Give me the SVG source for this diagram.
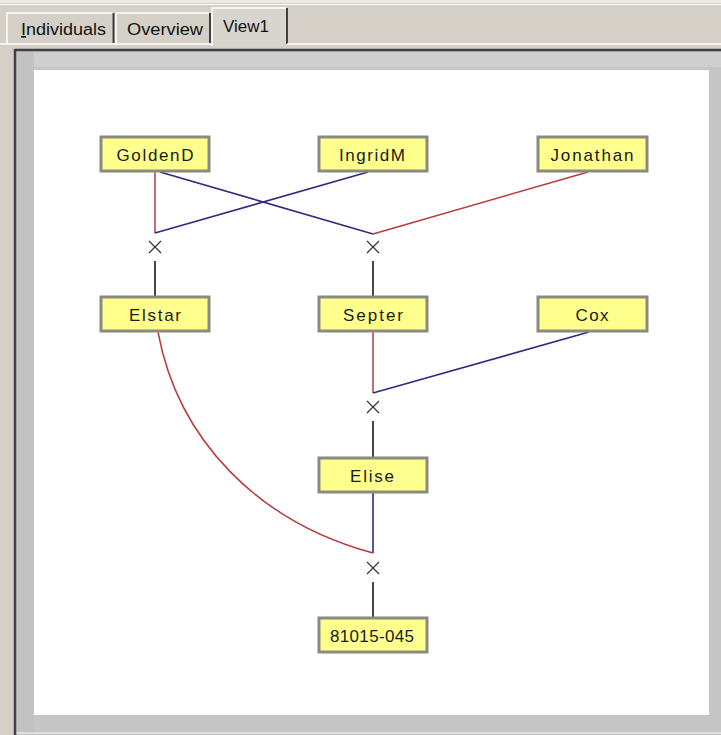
<svg xmlns="http://www.w3.org/2000/svg" width="721" height="735" viewBox="0 0 721 735">
<style>
.tabt{font-family:"Liberation Sans",Arial,sans-serif;font-size:16px;fill:#111}
.box{fill:#ffff8e;stroke:#8a8a80;stroke-width:3}
.lbl{font-family:"Liberation Sans",Arial,sans-serif;font-size:17px;fill:#1a1a1a;text-anchor:middle}
.red{stroke:#b83a3a;stroke-width:1.5;fill:none}
.blue{stroke:#2c2c80;stroke-width:1.6;fill:none}
.blk{stroke:#1a1a1a;stroke-width:1.6;fill:none}
.x{stroke:#333;stroke-width:1.2;fill:none}
</style>
<!-- window chrome -->
<rect x="0" y="0" width="721" height="735" fill="#d4d0c8"/>
<rect x="0" y="0" width="721" height="3" fill="#ece9e3"/>
<line x1="0" y1="4.5" x2="721" y2="4.5" stroke="#ffffff" stroke-width="1"/>
<!-- tabs -->
<g id="tab-individuals">
<path d="M7,44 L7,13 L113,13" fill="none" stroke="#ffffff" stroke-width="1.5"/>
<line x1="113.5" y1="13" x2="113.5" y2="43" stroke="#404040" stroke-width="2"/>
<text class="tabt" x="21" y="35" textLength="85" lengthAdjust="spacingAndGlyphs"><tspan text-decoration="underline">I</tspan>ndividuals</text>
</g>
<g id="tab-overview">
<path d="M116,44 L116,13 L209,13" fill="none" stroke="#ffffff" stroke-width="1.5"/>
<line x1="210" y1="13" x2="210" y2="43" stroke="#404040" stroke-width="2"/>
<text class="tabt" x="127" y="35" textLength="76" lengthAdjust="spacingAndGlyphs">Overview</text>
</g>
<g id="tab-view1">
<rect x="212" y="8" width="75" height="38" fill="#d8d5ce"/>
<path d="M212,46 L212,8 L286,8" fill="none" stroke="#ffffff" stroke-width="1.5"/>
<line x1="287" y1="8" x2="287" y2="44" stroke="#404040" stroke-width="2"/>
<text class="tabt" x="223" y="32" textLength="46" lengthAdjust="spacingAndGlyphs">View1</text>
</g>
<line x1="0" y1="44" x2="212" y2="44" stroke="#ffffff" stroke-width="1.5"/>
<line x1="287" y1="44" x2="721" y2="44" stroke="#ffffff" stroke-width="1.5"/>
<!-- panel -->
<rect x="15" y="49" width="706" height="686" fill="#c6c6c6"/>
<line x1="15" y1="50" x2="721" y2="50" stroke="#404040" stroke-width="2.5"/>
<line x1="15" y1="49" x2="15" y2="735" stroke="#404040" stroke-width="2.5"/>
<rect x="17" y="52" width="704" height="15" fill="#cfcfcf"/>
<rect x="17" y="52" width="17" height="680" fill="#c2c2c2"/>
<rect x="34" y="70" width="675" height="645" fill="#ffffff"/>
<line x1="17" y1="733" x2="721" y2="733" stroke="#e6e6e6" stroke-width="1.5"/>

<!-- connectors -->
<g id="connectors">
<path class="red" d="M155,172 L155,233"/>
<path class="blue" d="M368,172 L155,233"/>
<path class="blue" d="M160,172 L373,234"/>
<path class="red" d="M588,172 L373,234"/>
<path class="blk" d="M155,261 L155,296"/>
<path class="blk" d="M373,261 L373,296"/>
<path class="red" d="M373,332 L373,393"/>
<path class="blue" d="M589,332 L373,393"/>
<path class="blk" d="M373,421 L373,457"/>
<path class="blue" d="M373,493 L373,553"/>
<path class="red" d="M158,332 C178,440 258,522 373,553"/>
<path class="blk" d="M373,582 L373,617"/>
<g id="marriages">
<path class="x" d="M149,241 L161,253 M161,241 L149,253"/>
<path class="x" d="M367,241 L379,253 M379,241 L367,253"/>
<path class="x" d="M367,401 L379,413 M379,401 L367,413"/>
<path class="x" d="M367,562 L379,574 M379,562 L367,574"/>
</g>
</g>

<!-- nodes -->
<g id="GoldenD"><rect class="box" x="101" y="137" width="108" height="34"/><text class="lbl" x="155" y="161" textLength="77" lengthAdjust="spacing">GoldenD</text></g>
<g id="IngridM"><rect class="box" x="319" y="137" width="108" height="34"/><text class="lbl" x="372" y="161" textLength="66" lengthAdjust="spacing">IngridM</text></g>
<g id="Jonathan"><rect class="box" x="538" y="137" width="109" height="34"/><text class="lbl" x="592" y="161" textLength="83" lengthAdjust="spacing">Jonathan</text></g>
<g id="Elstar"><rect class="box" x="101" y="297" width="108" height="34"/><text class="lbl" x="155" y="321" textLength="52" lengthAdjust="spacing">Elstar</text></g>
<g id="Septer"><rect class="box" x="319" y="297" width="108" height="34"/><text class="lbl" x="373" y="321" textLength="60" lengthAdjust="spacing">Septer</text></g>
<g id="Cox"><rect class="box" x="538" y="297" width="109" height="34"/><text class="lbl" x="592" y="321" textLength="33" lengthAdjust="spacing">Cox</text></g>
<g id="Elise"><rect class="box" x="319" y="458" width="108" height="34"/><text class="lbl" x="372" y="482" textLength="44" lengthAdjust="spacing">Elise</text></g>
<g id="n81015-045"><rect class="box" x="319" y="618" width="108" height="34"/><text class="lbl" x="372" y="642" textLength="84" lengthAdjust="spacing">81015-045</text></g>
</svg>
